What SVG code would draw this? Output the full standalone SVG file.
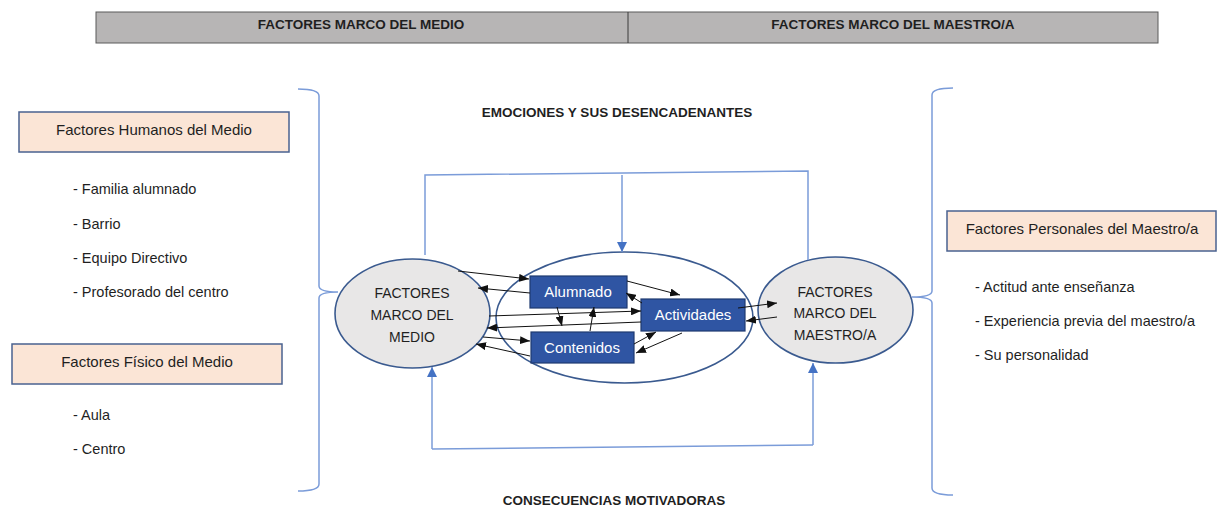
<svg xmlns="http://www.w3.org/2000/svg" width="1217" height="510" viewBox="0 0 1217 510">
<style>
text{font-family:"Liberation Sans",Arial,sans-serif;fill:#1f1f1f}
.hdr{font-size:13.5px;font-weight:bold;text-anchor:middle}
.lbl{font-size:15px;text-anchor:middle}
.item{font-size:14.5px}
.ell{font-size:14px;text-anchor:middle}
.peach{fill:#fbe5d6;stroke:#4a6290;stroke-width:1.5}
.oval{fill:#e8e7e7;stroke:#3a5a8f;stroke-width:1.6}
.bbox{fill:#2f55a3;stroke:#1f3a70;stroke-width:1.2}
.wt{fill:#ffffff;font-size:15px;text-anchor:middle}
.blk{fill:none;stroke:#111;stroke-width:1}
.blu{fill:none;stroke:#7b9cd9;stroke-width:1.5}
</style>
<defs>
<marker id="ah" markerUnits="userSpaceOnUse" markerWidth="10" markerHeight="8" viewBox="0 0 10 8" refX="10" refY="4" orient="auto"><path d="M0,0 L10,4 L0,8 z" fill="#111"/></marker>
<marker id="bh" markerUnits="userSpaceOnUse" markerWidth="10" markerHeight="10" viewBox="0 0 10 10" refX="10" refY="5" orient="auto"><path d="M0,0 L10,5 L0,10 z" fill="#4472c4"/></marker>
</defs>
<rect width="1217" height="510" fill="#ffffff"/>

<g id="top-bar">
<rect x="96" y="12" width="1062" height="31" fill="#b7b5b5" stroke="#5a5a5a" stroke-width="1"/>
<line x1="628" y1="12" x2="628" y2="43" stroke="#3a3a3a" stroke-width="1"/>
<text class="hdr" x="361" y="29">FACTORES MARCO DEL MEDIO</text>
<text class="hdr" x="893" y="29">FACTORES MARCO DEL MAESTRO/A</text>
</g>

<g id="title-emociones"><text class="hdr" x="617" y="117">EMOCIONES Y SUS DESENCADENANTES</text></g>
<g id="title-consecuencias"><text class="hdr" x="614" y="505">CONSECUENCIAS MOTIVADORAS</text></g>

<g id="factores-humanos">
<rect class="peach" x="19" y="112" width="270" height="40"/>
<text class="lbl" x="154" y="135">Factores Humanos del Medio</text>
<text class="item" x="73" y="194">- Familia alumnado</text>
<text class="item" x="73" y="229">- Barrio</text>
<text class="item" x="73" y="263">- Equipo Directivo</text>
<text class="item" x="73" y="297">- Profesorado del centro</text>
</g>

<g id="factores-fisico">
<rect class="peach" x="12" y="344" width="270" height="40"/>
<text class="lbl" x="147" y="367">Factores Físico del Medio</text>
<text class="item" x="73" y="420">- Aula</text>
<text class="item" x="73" y="454">- Centro</text>
</g>

<g id="factores-personales">
<rect class="peach" x="947" y="211" width="269" height="40"/>
<text class="lbl" x="1082" y="234">Factores Personales del Maestro/a</text>
<text class="item" x="975" y="292">- Actitud ante enseñanza</text>
<text class="item" x="975" y="326">- Experiencia previa del maestro/a</text>
<text class="item" x="975" y="360">- Su personalidad</text>
</g>

<g id="brace-left"><path class="blu" d="M298,89 Q319,89 319,96 L319,286 Q319,292 338,292 Q319,292 319,298 L319,484 Q319,491 298,491"/></g>
<g id="brace-right"><path class="blu" d="M953,88 Q932,88 932,95 L932,291 Q932,297 912,297 Q932,297 932,303 L932,488 Q932,495 953,495"/></g>

<g id="ellipse-centro"><ellipse cx="624.5" cy="317.5" rx="128.5" ry="65.5" fill="#ffffff" stroke="#3a5a8f" stroke-width="1.6"/></g>

<g id="marco-medio">
<ellipse class="oval" cx="412.5" cy="313.5" rx="77.5" ry="54.5"/>
<text class="ell" x="412" y="298">FACTORES</text>
<text class="ell" x="412" y="320">MARCO DEL</text>
<text class="ell" x="412" y="342">MEDIO</text>
</g>

<g id="marco-maestro">
<ellipse class="oval" cx="835.5" cy="310" rx="77.5" ry="53"/>
<text class="ell" x="835" y="297">FACTORES</text>
<text class="ell" x="835" y="318">MARCO DEL</text>
<text class="ell" x="835" y="340">MAESTRO/A</text>
</g>

<g id="alumnado">
<rect class="bbox" x="530" y="276" width="97" height="32"/>
<text class="wt" x="578" y="297">Alumnado</text>
</g>
<g id="actividades">
<rect class="bbox" x="641" y="299" width="104" height="32"/>
<text class="wt" x="693" y="320">Actividades</text>
</g>
<g id="contenidos">
<rect class="bbox" x="531" y="332" width="103" height="31"/>
<text class="wt" x="582" y="353">Contenidos</text>
</g>

<g id="connectors">
<line class="blk" x1="458" y1="271" x2="529" y2="279" marker-end="url(#ah)"/>
<line class="blk" x1="530" y1="293" x2="478" y2="288" marker-end="url(#ah)"/>
<line class="blk" x1="627" y1="281" x2="680" y2="295" marker-end="url(#ah)"/>
<line class="blk" x1="642" y1="303" x2="626" y2="293" marker-end="url(#ah)"/>
<line class="blk" x1="557" y1="307" x2="562" y2="326" marker-end="url(#ah)"/>
<line class="blk" x1="590" y1="331" x2="594" y2="307" marker-end="url(#ah)"/>
<line class="blk" x1="489" y1="316" x2="641" y2="311" marker-end="url(#ah)"/>
<line class="blk" x1="641" y1="322" x2="487" y2="328" marker-end="url(#ah)"/>
<line class="blk" x1="483" y1="337" x2="530" y2="341" marker-end="url(#ah)"/>
<line class="blk" x1="530" y1="356" x2="476" y2="344" marker-end="url(#ah)"/>
<line class="blk" x1="634" y1="344" x2="656" y2="332" marker-end="url(#ah)"/>
<line class="blk" x1="682" y1="333" x2="636" y2="353" marker-end="url(#ah)"/>
<line class="blk" x1="738" y1="308" x2="777" y2="303" marker-end="url(#ah)"/>
<line class="blk" x1="777" y1="317" x2="746" y2="321" marker-end="url(#ah)"/>
<path class="blu" d="M425,255 L425,175 L808,171 L808,260"/>
<line class="blu" x1="622" y1="175" x2="622" y2="252" marker-end="url(#bh)"/>
<path class="blu" d="M813,445 L432,449"/>
<line class="blu" x1="432" y1="449" x2="432" y2="367" marker-end="url(#bh)"/>
<line class="blu" x1="813" y1="445" x2="813" y2="363" marker-end="url(#bh)"/>
</g>
</svg>
